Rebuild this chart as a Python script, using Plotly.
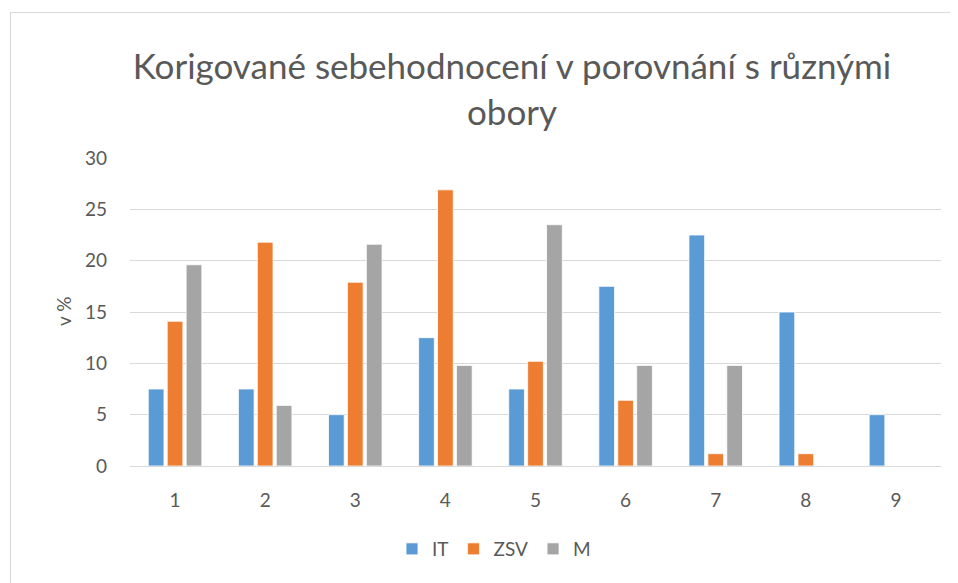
import plotly.graph_objects as go

categories = ["1", "2", "3", "4", "5", "6", "7", "8", "9"]
it_values = [7.5, 7.5, 5.0, 12.5, 7.5, 17.5, 22.5, 15.0, 5.0]
zsv_values = [14.1, 21.8, 17.9, 26.9, 10.2, 6.4, 1.2, 1.2, 0]
m_values = [19.6, 5.9, 21.6, 9.8, 23.5, 9.8, 9.8, 0, 0]
series_names = ["IT", "ZSV", "M"]
colors = ["#5B9BD5", "#ED7D31", "#A5A5A5"]
y_ticks = [0, 5, 10, 15, 20, 25, 30]

FONT = "Lato, 'Open Sans', sans-serif"
TXT = "#595959"
OFF = 8  # page body margin

# target page-pixel geometry of the plot area
PL, PR, PT, PB = 130, 941, 158, 466
L = PL - OFF
T = PT - OFF
W = PR - PL
H = PB - PT
R = 958 - (PR - OFF)
B = 583 - (PB - OFF)


def px(xp):
    return (xp - PL) / W


def py(yp):
    return (PB - yp) / H


fig = go.Figure()
for name, vals, col in zip(series_names, [it_values, zsv_values, m_values], colors):
    fig.add_trace(go.Bar(
        x=categories, y=vals, name=name,
        marker=dict(color=col, line=dict(color="white", width=0.8)),
    ))

fig.update_layout(
    width=958, height=583,
    margin=dict(l=L, r=R, t=T, b=B, autoexpand=False),
    paper_bgcolor="white", plot_bgcolor="white",
    barmode="group", bargap=0.37, bargroupgap=0.17,
    font=dict(family=FONT, color=TXT, size=19),
    title=dict(
        text="Korigované sebehodnocení v porovnání s různými<br>obory",
        x=(512 - OFF) / 958, xanchor="center", xref="container",
        y=1 - (79 - OFF) / 583, yanchor="middle", yref="container",
        font=dict(family=FONT, size=35, color=TXT),
    ),
    xaxis=dict(
        showgrid=False, showline=True, linecolor="#D9D9D9", linewidth=1,
        ticks="", tickfont=dict(size=19, color=TXT), ticklabelstandoff=17,
        fixedrange=True,
    ),
    yaxis=dict(
        range=[0, 30], tickvals=y_ticks, showgrid=True, gridcolor="#D9D9D9",
        gridwidth=1, zeroline=False, showline=False, ticks="",
        tickfont=dict(size=19, color=TXT), ticklabelstandoff=22,
    ),
    legend=dict(
        orientation="h", x=px(494), xanchor="center",
        y=py(549), yanchor="middle",
        font=dict(size=19, color=TXT), itemwidth=30, traceorder="normal",
    ),
    showlegend=True,
)

fig.add_annotation(
    text="v %", xref="paper", yref="paper",
    x=px(63), y=py(312), textangle=-90,
    showarrow=False, font=dict(size=19, color=TXT, family=FONT),
    xanchor="center", yanchor="middle",
)

fig.add_shape(
    type="rect", xref="paper", yref="paper",
    x0=px(10.5), x1=px(990),
    y0=py(620), y1=py(12.5),
    line=dict(color="#D9D9D9", width=1.2), fillcolor="rgba(0,0,0,0)", layer="below",
)

fig.write_html("out.html")
